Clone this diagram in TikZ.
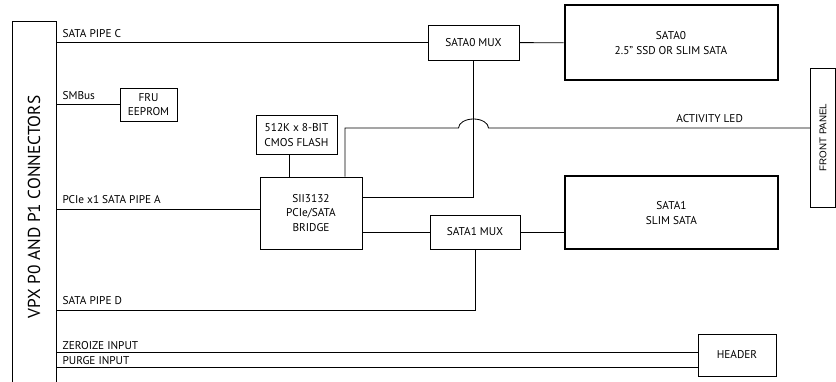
\documentclass[tikz,border=0pt]{standalone}
\usepackage{fontspec}
\setmainfont{PT Sans}
\newfontfamily\panelfont{Liberation Sans}
\usetikzlibrary{positioning}
\usetikzlibrary{calc}
\tikzset{
	chip/.style={draw, rectangle, inner sep=2pt, align=center, line width=0.8pt},
	drive/.style={chip, line width=2pt},
	% signal names sit on their lines
	sig/.style={anchor=base west, inner sep=0pt, xshift=6pt, yshift=5pt},
}

\begin{document}
\begin{tikzpicture}[x=1pt, y=-1pt, font=\fontsize{11.3}{14.5}\selectfont]
			\useasboundingbox (0,0) rectangle (836,382);
			
			\node (conn) [draw, line width=0.8pt, minimum width=44pt, minimum height=372pt] at (34,207) {};
			\node [rotate=90, font=\fontsize{17.3}{18}\selectfont] at (conn.center) {VPX P0 AND P1 CONNECTORS};
			
			\node (fru) [chip, minimum width=57pt, minimum height=33pt] at (148.5,104.5) {FRU\\EEPROM};
			\node (flash) [chip, minimum width=81pt, minimum height=39pt] at (296.5,135) {512K x 8-BIT\\CMOS FLASH};
			\node (bridge) [chip, minimum width=102pt, minimum height=72pt] at (311,213) {SII3132\\PCIe/SATA\\BRIDGE};
			
			\node (mux0) [chip, minimum width=91pt, minimum height=35pt] at (473.5,42.5) {SATA0 MUX};
			\node (mux1) [chip, minimum width=90pt, minimum height=34pt] at (475,232) {SATA1 MUX};
			
			\node (sata0) [drive, minimum width=213pt, minimum height=75pt] at (671,43) {SATA0\\2.5” SSD OR SLIM SATA};
			\node (sata1) [drive, minimum width=213pt, minimum height=73pt] at (671.5,213) {SATA1\\SLIM SATA};
			
			\node (fpanel) [chip, minimum width=25pt, minimum height=139pt] at (823,137.5) {};
			\node [rotate=90, font=\panelfont\fontsize{9.8}{11}\selectfont] at (fpanel.center) {FRONT PANEL};
			\node (header) [chip, minimum width=78pt, minimum height=42pt] at (737,355) {HEADER};
			
			\coordinate (pipeA) at (conn.east |- 0,209);
			\coordinate (pipeD) at (conn.east |- 0,310);
			\coordinate (zero) at (conn.east |- 0,352);
			\coordinate (purge) at (conn.east |- 0,367);
			\coordinate (jump) at ([xshift=-15pt]mux0.south |- 0,128);
			
			\begin{scope}[line width=0.8pt]
				\draw (conn.east |- mux0) -- (mux0);
				\draw (conn.east |- fru) -- (fru);
				\draw (pipeA) -- (bridge.west |- pipeA);
				\draw (mux1.south) |- (pipeD);
				\draw (zero) -- (header.west |- zero);
				\draw (purge) -- (header.west |- purge);
				\draw (mux0) -- (sata0);
				\draw (mux1) -- (mux1 -| sata1.west);
				\draw (bridge.east |- mux1) -- (mux1);
				\draw ([yshift=16pt]bridge.east) -| (mux0.south);
				\draw ([xshift=-7.5pt]flash.south) -- ([xshift=-7.5pt]flash.south |- bridge.north);
				\draw ([xshift=34pt]bridge.north) |- (jump) arc[start angle=180, end angle=0, x radius=15pt, y radius=9pt] -- (fpanel.west |- jump);
			\end{scope}
			
			\node [sig] at (conn.east |- mux0) {SATA PIPE C};
			\node [sig] at (conn.east |- fru) {SMBus};
			\node [sig] at (pipeA) {PCIe x1 SATA PIPE A};
			\node [sig] at (pipeD) {SATA PIPE D};
			\node [sig, yshift=-2pt] at (zero) {ZEROIZE INPUT};
			\node [sig, yshift=-2pt] at (purge) {PURGE INPUT};
			\node [anchor=base east, inner sep=0pt, yshift=5pt] at ([xshift=-67pt]fpanel.west |- jump) {ACTIVITY LED};
		\end{tikzpicture}
\end{document}
